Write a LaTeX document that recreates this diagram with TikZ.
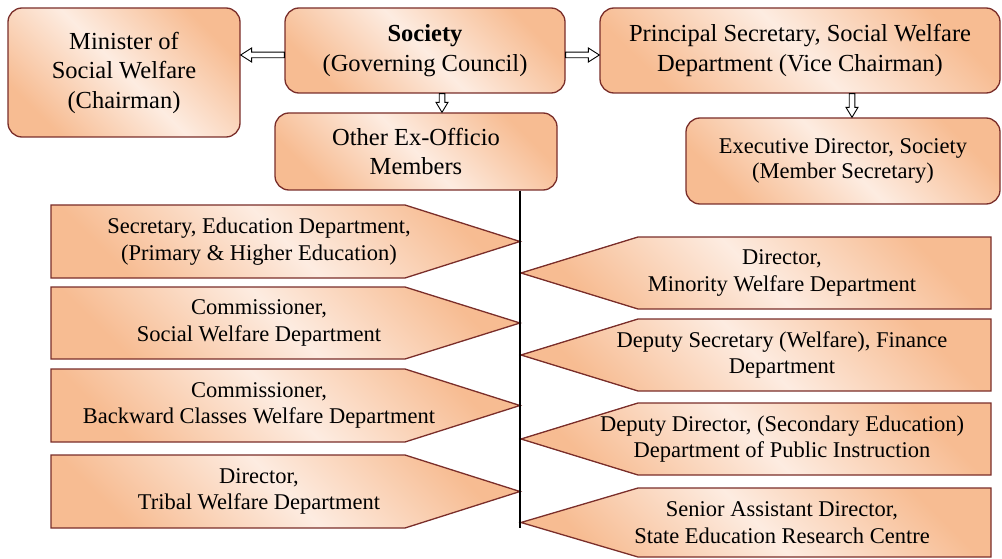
\documentclass[tikz,border=0pt]{standalone}
\usepackage{fontspec}
\setmainfont{Liberation Serif}
\usetikzlibrary{calc}
\definecolor{bord}{RGB}{122,46,42}
\definecolor{darkor}{RGB}{247,188,146}
\definecolor{lightor}{RGB}{253,236,225}
\tikzset{
  fillshade/.style={top color=darkor, bottom color=darkor, middle color=lightor, shading angle=-45},
  topbox/.style={draw=bord, line width=1.3pt, rounded corners=14pt, fillshade, align=center, inner sep=0pt, font=\fontsize{24.5}{29.5}\selectfont},
  penta/.style={draw=bord, line width=1.3pt, fillshade},
  ptext/.style={align=center, inner sep=0pt, font=\fontsize{22.5}{26.5}\selectfont},
  barrow/.style={draw=black, fill=white, line width=0.9pt, line join=miter},
  vline/.style={draw=black, line width=1.3pt},
}
% horizontal block arrow: #1 start anchor, #2 tip anchor, #3 y (picture units)
\newcommand{\harr}[3]{%
  \path[barrow] let \p1=(#1), \p2=(#2), \p3=(0,#3), \n1={sign(\x2-\x1)*11pt} in
    (\x1,{\y3+2.8pt}) -- ({\x2-\n1},{\y3+2.8pt}) -- ({\x2-\n1},{\y3+7pt}) -- (\x2,\y3)
    -- ({\x2-\n1},{\y3-7pt}) -- ({\x2-\n1},{\y3-2.8pt}) -- (\x1,{\y3-2.8pt}) -- cycle;}
% vertical block arrow: #1 start anchor, #2 tip anchor, #3 x (picture units)
\newcommand{\varr}[3]{%
  \path[barrow] let \p1=(#1), \p2=(#2), \p3=(#3,0), \n1={sign(\y2-\y1)*10pt} in
    ({\x3+2.8pt},\y1) -- ({\x3+2.8pt},{\y2-\n1}) -- ({\x3+6pt},{\y2-\n1}) -- (\x3,\y2)
    -- ({\x3-6pt},{\y2-\n1}) -- ({\x3-2.8pt},{\y2-\n1}) -- ({\x3-2.8pt},\y1) -- cycle;}
\newcommand{\leftpenta}[4]{%
  \pgfmathsetmacro{\pmid}{(#2+#3)/2}%
  \path[penta] (51,#2) -- (405,#2) -- (520,\pmid) -- (405,#3) -- (51,#3) -- cycle;
  \node[ptext] (#1) at (259,\pmid) {#4};
}
\newcommand{\rightpenta}[4]{%
  \pgfmathsetmacro{\pmid}{(#2+#3)/2}%
  \path[penta] (991,#2) -- (638,#2) -- (521,\pmid) -- (638,#3) -- (991,#3) -- cycle;
  \node[ptext] (#1) at (782,\pmid) {#4};
}
\begin{document}
\begin{tikzpicture}[x=1pt, y=-1pt]
\useasboundingbox (0,0) rectangle (1002,559);

\node[topbox, minimum width=232pt, minimum height=129pt] (min) at (124,72.5) {Minister of\\Social Welfare\\(Chairman)};
\node[topbox, minimum width=280pt, minimum height=85pt] (soc) at (425,50.5) {\textbf{Society}\\(Governing Council)};
\node[topbox, minimum width=400pt, minimum height=85pt] (prin) at (800,50.5) {Principal Secretary, Social Welfare\\Department (Vice Chairman)};
\node[topbox, minimum width=282pt, minimum height=77pt] (other) at (416,151.5) {Other Ex-Officio\\Members};
\node[topbox, minimum width=314pt, minimum height=86pt, font=\fontsize{22.5}{25.5}\selectfont] (exec) at (843,161) {Executive Director, Society\\(Member Secretary)};

\harr{soc.west}{min.east}{55}
\harr{soc.east}{prin.west}{55}
\varr{soc.south -| 442,0}{other.north -| 442,0}{442}
\varr{prin.south -| 852,0}{exec.north -| 852,0}{852}

\leftpenta{l1}{205}{278}{Secretary, Education Department,\\(Primary \& Higher Education)}
\leftpenta{l2}{287}{359}{Commissioner,\\Social Welfare Department}
\leftpenta{l3}{369}{442}{Commissioner,\\Backward Classes Welfare Department}
\leftpenta{l4}{455}{528}{Director,\\Tribal Welfare Department}

\rightpenta{r1}{237}{309}{Director,\\Minority Welfare Department}
\rightpenta{r2}{319}{391}{Deputy Secretary (Welfare), Finance\\Department}
\rightpenta{r3}{403}{475}{Deputy Director, (Secondary Education)\\Department of Public Instruction}
\rightpenta{r4}{488}{557}{Senior Assistant Director,\\State Education Research Centre}

\coordinate (vtop) at (other.south -| 520,0);
\coordinate (vbot) at (520,528);
\draw[vline] (vtop) -- (vbot);
\end{tikzpicture}
\end{document}
